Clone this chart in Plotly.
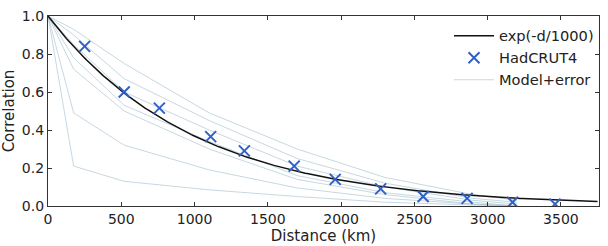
import numpy as np
import plotly.graph_objects as go

# HadCRUT4 observed correlations
had_dist = [250, 520, 760, 1110, 1340, 1680, 1960, 2270, 2560, 2860, 3170, 3460]
had_corr = [0.84, 0.60, 0.515, 0.365, 0.29, 0.21, 0.14, 0.09, 0.05, 0.04, 0.02, 0.01]

# Model+error curves (piecewise)
model_dist = [0, 175, 520, 1100, 1700, 2300, 2900, 3200]
model_lines = [
    [1.0, 0.93, 0.75, 0.49, 0.30, 0.15, 0.06, 0.03],
    [1.0, 0.90, 0.67, 0.45, 0.25, 0.12, 0.04, 0.02],
    [1.0, 0.85, 0.60, 0.40, 0.21, 0.10, 0.03, 0.01],
    [1.0, 0.78, 0.53, 0.34, 0.16, 0.07, 0.02, 0.0],
    [1.0, 0.72, 0.50, 0.30, 0.14, 0.06, 0.01, 0.0],
    [1.0, 0.49, 0.32, 0.19, 0.095, 0.04, 0.01, 0.0],
    [1.0, 0.21, 0.13, 0.085, 0.05, 0.02, 0.005, 0.0],
]

# Reference exponential
exp_dist = np.linspace(0, 3750, 300)
exp_corr = np.exp(-exp_dist / 1000.0)

fig = go.Figure()

for i, ys in enumerate(model_lines):
    fig.add_trace(go.Scatter(
        x=model_dist, y=ys, mode="lines",
        line=dict(color="rgba(160,190,205,0.6)", width=1),
        name="Model+error", showlegend=(i == 0), legendrank=3,
    ))

fig.add_trace(go.Scatter(
    x=exp_dist, y=exp_corr, mode="lines",
    line=dict(color="#111111", width=1.5),
    name="exp(-d/1000)", legendrank=1,
))

fig.add_trace(go.Scatter(
    x=had_dist, y=had_corr, mode="markers",
    marker=dict(symbol="x-thin-open", size=11,
                line=dict(color="#2f62c8", width=2), color="#2f62c8"),
    name="HadCRUT4", legendrank=2,
))

axis_common = dict(
    showgrid=False, zeroline=False, showline=True, linecolor="#333333",
    linewidth=1.2, mirror="allticks", ticks="inside", ticklen=4,
    tickcolor="#333333", tickfont=dict(size=14, color="#222222"),
)

fig.update_layout(
    width=608, height=246,
    margin=dict(l=47, r=8, t=8, b=39),
    paper_bgcolor="white", plot_bgcolor="white",
    font=dict(family="DejaVu Sans", color="#222222"),
    xaxis=dict(range=[0, 3760], tickvals=[0, 500, 1000, 1500, 2000, 2500, 3000, 3500],
               title=dict(text="Distance (km)", font=dict(size=15), standoff=1),
               **axis_common),
    yaxis=dict(range=[0, 1.0], tickvals=[0, 0.2, 0.4, 0.6, 0.8, 1.0], tickformat=".1f",
               title=dict(text="Correlation", font=dict(size=15), standoff=3),
               **axis_common),
    legend=dict(x=1.0, y=0.98, xanchor="right", yanchor="top",
                bgcolor="rgba(255,255,255,0)", font=dict(size=14.6),
                itemwidth=40, tracegroupgap=0),
    showlegend=True,
)

fig.write_html("out.html")
